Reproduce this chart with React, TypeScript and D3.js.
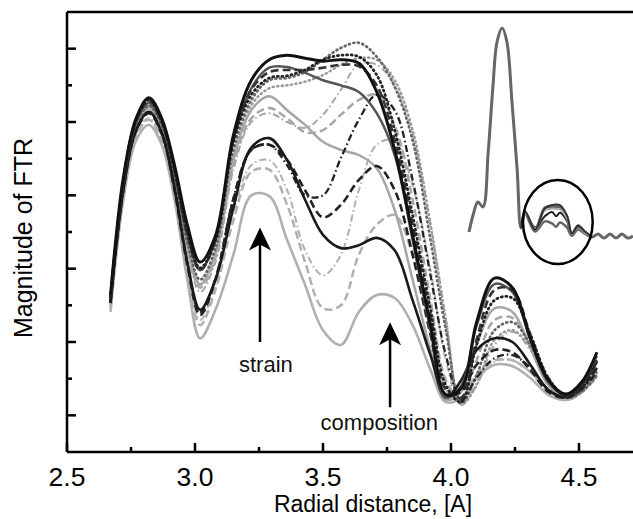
import React from 'react';
import * as d3 from 'd3';

// radial distance grid shared by all FTR curves
const R = [2.67, 2.72, 2.77, 2.82, 2.87, 2.92, 2.97, 3.02, 3.08, 3.15, 3.22, 3.29, 3.36, 3.43, 3.5, 3.57,
  3.64, 3.71, 3.78, 3.85, 3.92, 3.98, 4.04, 4.1, 4.17, 4.24, 4.31, 4.38, 4.45, 4.51, 4.57];

// upper bundle
const blackSolid = [2.14, 3.74, 4.55, 4.83, 4.55, 3.91, 3.1, 2.59, 2.95, 4.32, 5.07, 5.35, 5.41, 5.37, 5.33, 5.35, 5.3, 4.91, 4.12, 2.96, 1.73, 0.78, 0.87, 1.77, 2.37, 2.24, 1.55, 0.98, 0.79, 0.95, 1.36];
const darkGraySolid = [2.1, 3.68, 4.5, 4.76, 4.49, 3.82, 2.96, 2.48, 2.89, 4.25, 4.96, 5.24, 5.25, 5.17, 5.07, 5.0, 4.91, 4.62, 4.05, 2.89, 1.66, 0.74, 0.9, 1.72, 2.29, 2.18, 1.53, 0.95, 0.78, 0.94, 1.31];
const blackDotted = [2.11, 3.71, 4.53, 4.8, 4.51, 3.85, 3.0, 2.51, 2.89, 4.23, 4.87, 5.1, 5.13, 5.21, 5.35, 5.41, 5.39, 5.14, 4.39, 3.23, 1.94, 0.91, 0.68, 1.46, 2.07, 2.1, 1.6, 1.01, 0.76, 0.87, 1.15];
const darkDashed = [2.1, 3.7, 4.51, 4.79, 4.5, 3.83, 2.97, 2.48, 2.89, 4.25, 4.94, 5.18, 5.21, 5.21, 5.24, 5.28, 5.26, 5.0, 4.25, 3.1, 1.83, 0.85, 0.74, 1.53, 2.21, 2.21, 1.6, 1.01, 0.76, 0.9, 1.25];
const grayDotted = [2.07, 3.64, 4.46, 4.72, 4.45, 3.76, 2.86, 2.35, 2.78, 4.12, 4.8, 5.07, 5.1, 5.18, 5.35, 5.51, 5.58, 5.39, 4.98, 4.25, 2.89, 1.66, 0.67, 1.05, 1.66, 1.77, 1.46, 0.98, 0.74, 0.82, 1.05];
const lightSolid = [2.07, 3.64, 4.46, 4.72, 4.43, 3.74, 2.82, 2.28, 2.69, 3.98, 4.66, 4.85, 4.66, 4.46, 4.23, 4.12, 4.05, 3.87, 3.3, 2.35, 1.39, 0.71, 0.82, 1.46, 1.96, 1.91, 1.42, 0.91, 0.75, 0.91, 1.25];
const lightDashed = [2.06, 3.61, 4.43, 4.69, 4.4, 3.71, 2.78, 2.24, 2.65, 3.91, 4.55, 4.69, 4.55, 4.36, 4.39, 4.6, 4.8, 4.87, 4.46, 3.44, 2.07, 0.98, 0.71, 1.25, 1.8, 1.83, 1.46, 0.95, 0.74, 0.85, 1.12];
const lightDashDot = [2.05, 3.6, 4.42, 4.66, 4.39, 3.68, 2.75, 2.18, 2.59, 3.85, 4.5, 4.62, 4.5, 4.42, 4.6, 4.94, 5.29, 5.28, 5.0, 4.32, 3.1, 1.8, 0.68, 0.91, 1.46, 1.64, 1.39, 0.95, 0.74, 0.82, 1.01];
const lightDotted = [2.06, 3.63, 4.45, 4.69, 4.42, 3.74, 2.82, 2.29, 2.73, 4.05, 4.73, 4.96, 5.0, 5.05, 5.14, 5.28, 5.37, 5.35, 5.07, 4.39, 3.1, 1.8, 0.65, 0.91, 1.53, 1.66, 1.42, 0.95, 0.74, 0.82, 1.04];

// lower bundle (double peak)
const blackSolid2 = [2.03, 3.57, 4.39, 4.64, 4.35, 3.6, 2.59, 1.94, 2.35, 3.33, 4.15, 4.28, 3.98, 3.44, 2.96, 2.78, 2.82, 2.92, 2.75, 2.07, 1.32, 0.74, 0.98, 1.39, 1.55, 1.5, 1.19, 0.85, 0.75, 0.91, 1.23];
const blackDashed2 = [2.03, 3.57, 4.38, 4.62, 4.34, 3.57, 2.55, 1.87, 2.35, 3.44, 4.12, 4.19, 3.98, 3.57, 3.2, 3.37, 3.71, 3.9, 3.57, 2.69, 1.6, 0.78, 0.82, 1.19, 1.39, 1.36, 1.12, 0.82, 0.74, 0.87, 1.15];
const blackDashDot2 = [2.05, 3.59, 4.39, 4.64, 4.35, 3.6, 2.59, 1.91, 2.37, 3.46, 4.12, 4.19, 3.91, 3.5, 3.5, 4.01, 4.53, 4.87, 4.66, 3.71, 2.41, 1.32, 0.71, 1.01, 1.28, 1.32, 1.15, 0.85, 0.74, 0.85, 1.09];
const lightSolid2 = [1.91, 3.44, 4.25, 4.46, 4.19, 3.44, 2.35, 1.55, 1.94, 2.69, 3.5, 3.49, 2.89, 2.28, 1.66, 1.46, 1.91, 2.14, 2.1, 1.73, 1.12, 0.68, 0.74, 1.01, 1.19, 1.17, 1.01, 0.78, 0.71, 0.82, 1.09];
const lightDashed2 = [1.96, 3.49, 4.31, 4.53, 4.25, 3.5, 2.45, 1.73, 2.21, 3.16, 3.82, 3.85, 3.37, 2.59, 1.96, 2.0, 2.69, 3.1, 3.23, 2.69, 1.66, 0.85, 0.71, 1.05, 1.25, 1.25, 1.09, 0.82, 0.71, 0.82, 1.09];
const lightDashDot2 = [1.99, 3.52, 4.34, 4.55, 4.28, 3.55, 2.51, 1.8, 2.28, 3.27, 3.91, 3.98, 3.57, 2.75, 2.41, 2.69, 3.57, 4.19, 4.25, 3.64, 2.48, 1.25, 0.64, 0.95, 1.23, 1.25, 1.09, 0.82, 0.71, 0.8, 1.05];

const xTicks = [2.5, 3.0, 3.5, 4.0, 4.5];
const xTickLabels = ['2.5', '3.0', '3.5', '4.0', '4.5'];
const xMinor = [2.75, 3.25, 3.75, 4.25];
const yTicks = [0.5, 1.5, 2.5, 3.5, 4.5, 5.5];
const yMinor = [1, 2, 3, 4, 5];

// inset: full transform
const insetR = [1.2, 1.32, 1.46, 1.61, 1.76, 1.9, 2.02, 2.17, 2.31, 2.46, 2.61, 2.72, 2.84, 3.13, 3.42, 3.63,
  3.86, 4.07, 4.21, 4.39, 4.59, 4.8, 4.98, 5.15, 5.33, 5.5, 5.68, 5.85, 6.0];
const insetMain = [0.038, 0.118, 0.179, 0.156, 0.41, 0.722, 0.934, 1.0, 0.934, 0.646, 0.33, 0.057, 0.132, 0.047, 0.151, 0.156,
  0.156, 0.104, 0.024, 0.061, 0.033, 0.014, 0.028, 0.009, 0.028, 0.009, 0.028, 0.009, 0.019];
const insetZoomR = [2.72, 2.84, 3.13, 3.42, 3.63, 3.75, 3.86, 4.07, 4.21, 4.39, 4.59, 4.8];
const insetTop = [0.057, 0.135, 0.05, 0.15, 0.165, 0.168, 0.165, 0.115, 0.03, 0.065, 0.04, 0.014];
const insetLight = [0.057, 0.13, 0.055, 0.14, 0.148, 0.146, 0.144, 0.1, 0.028, 0.06, 0.035, 0.014];
const insetMid = [0.057, 0.128, 0.06, 0.112, 0.132, 0.112, 0.128, 0.09, 0.03, 0.07, 0.04, 0.014];
const insetLow = [0.057, 0.125, 0.04, 0.088, 0.078, 0.062, 0.082, 0.058, 0.02, 0.05, 0.03, 0.014];

const W = 633;
const H = 519;
const font = "'Liberation Sans', Arial, Helvetica, sans-serif";

const dot = '1,3.6';
const dash = '8,4';
const dashDot = '7,3,1.5,3';

const series = [
  { values: lightDashDot2, color: '#b0b0b0', dash: dashDot, w: 2 },
  { values: lightDashed2, color: '#b0b0b0', dash: dash, w: 2.5 },
  { values: lightSolid2, color: '#b0b0b0', dash: null, w: 2.6 },
  { values: lightDashDot, color: '#a6a6a6', dash: dashDot, w: 2 },
  { values: lightDotted, color: '#9a9a9a', dash: dot, w: 2.6 },
  { values: lightDashed, color: '#a6a6a6', dash: dash, w: 2.5 },
  { values: lightSolid, color: '#a6a6a6', dash: null, w: 2.5 },
  { values: grayDotted, color: '#666', dash: dot, w: 2.7 },
  { values: blackDashDot2, color: '#222', dash: dashDot, w: 2.3 },
  { values: blackDashed2, color: '#222', dash: dash, w: 2.6 },
  { values: blackSolid2, color: '#1a1a1a', dash: null, w: 2.6 },
  { values: darkGraySolid, color: '#555', dash: null, w: 2.5 },
  { values: darkDashed, color: '#333', dash: dash, w: 2.6 },
  { values: blackDotted, color: '#222', dash: dot, w: 2.8 },
  { values: blackSolid, color: '#111', dash: null, w: 3 },
];

const insetSeries = [
  { r: insetR, values: insetMain, color: '#666', w: 3 },
  { r: insetZoomR, values: insetLow, color: '#666', w: 2.5 },
  { r: insetZoomR, values: insetMid, color: '#222', w: 2 },
  { r: insetZoomR, values: insetLight, color: '#aaa', w: 2 },
  { r: insetZoomR, values: insetTop, color: '#333', w: 2 },
];

const App = () => {
  const x = d3.scaleLinear().domain([2.5, 4.711]).range([67, 633]);
  const y = d3.scaleLinear().domain([0, 6]).range([452, 12]);
  const line = d3
    .line<number>()
    .x((_, i) => x(R[i]))
    .y((d) => y(d))
    .curve(d3.curveCatmullRom.alpha(0.5));

  const ix = d3.scaleLinear().domain([1.2, 6.0]).range([469, 633]);
  const iy = d3.scaleLinear().domain([0, 1]).range([240, 28]);

  // arrows: [r, from, to]
  const arrows = [
    { r: 3.254, v0: 1.5, v1: 3.06 },
    { r: 3.762, v0: 0.61, v1: 1.77 },
  ];
  const arrowHead = (cx: number, tip: number) =>
    `M${cx},${tip} L${cx + 11},${tip + 23} L${cx},${tip + 17} L${cx - 11},${tip + 23} Z`;

  return (
    <svg width={W} height={H} style={{ position: 'absolute', left: 0, top: 0, background: '#fff' }} fontFamily={font}>
      {/* curves */}
      {series.map((s, i) => (
        <path
          key={i}
          d={line(s.values) || ''}
          fill="none"
          stroke={s.color}
          strokeWidth={s.w}
          strokeDasharray={s.dash || undefined}
          strokeLinecap={s.dash === dot ? 'round' : 'butt'}
          strokeLinejoin="round"
        />
      ))}

      {/* inset */}
      {insetSeries.map((s, i) => {
        const l = d3
          .line<number>()
          .x((_, j) => ix(s.r[j]))
          .y((d) => iy(d))
          .curve(d3.curveCatmullRom.alpha(0.5));
        return <path key={i} d={l(s.values) || ''} fill="none" stroke={s.color} strokeWidth={s.w} strokeLinejoin="round" />;
      })}
      <ellipse
        cx={ix(3.8)}
        cy={iy(0.085)}
        rx={ix(4.82) - ix(3.8)}
        ry={iy(-0.113) - iy(0.085)}
        fill="none"
        stroke="#000"
        strokeWidth={2.5}
      />

      {/* annotation arrows */}
      {arrows.map((a, i) => (
        <g key={i}>
          <line x1={x(a.r)} x2={x(a.r)} y1={y(a.v0)} y2={y(a.v1) + 10} stroke="#000" strokeWidth={2.5} />
          <path d={arrowHead(x(a.r), y(a.v1))} fill="#000" />
        </g>
      ))}
      <text x={x(3.277)} y={y(1.09)} fontSize={22} textAnchor="middle" fill="#111">
        strain
      </text>
      <text x={x(3.72)} y={y(0.3)} fontSize={22} textAnchor="middle" fill="#111">
        composition
      </text>

      {/* axes */}
      <line x1={67} x2={633} y1={12} y2={12} stroke="#000" strokeWidth={2.5} />
      <line x1={67} x2={633} y1={452} y2={452} stroke="#000" strokeWidth={2.5} />
      <line x1={67} x2={67} y1={12} y2={452} stroke="#000" strokeWidth={2.5} />
      {xTicks.map((t) => (
        <line key={'xt' + t} x1={x(t)} x2={x(t)} y1={452} y2={443} stroke="#000" strokeWidth={2.5} />
      ))}
      {xMinor.map((t) => (
        <line key={'xm' + t} x1={x(t)} x2={x(t)} y1={452} y2={447} stroke="#000" strokeWidth={2.5} />
      ))}
      {yTicks.map((t) => (
        <line key={'yt' + t} x1={67} x2={76} y1={y(t)} y2={y(t)} stroke="#000" strokeWidth={2.5} />
      ))}
      {yMinor.map((t) => (
        <line key={'ym' + t} x1={67} x2={72} y1={y(t)} y2={y(t)} stroke="#000" strokeWidth={2.5} />
      ))}
      {xTickLabels.map((label, i) => (
        <text key={'xl' + label} x={x(xTicks[i])} y={486} fontSize={26.5} textAnchor="middle" fill="#000">
          {label}
        </text>
      ))}
      <text x={373} y={512} fontSize={23} textAnchor="middle" fill="#000">
        Radial distance, [A]
      </text>
      <text transform="translate(32,238) rotate(-90)" fontSize={25} textAnchor="middle" fill="#000">
        Magnitude of FTR
      </text>
    </svg>
  );
};

export default App;
